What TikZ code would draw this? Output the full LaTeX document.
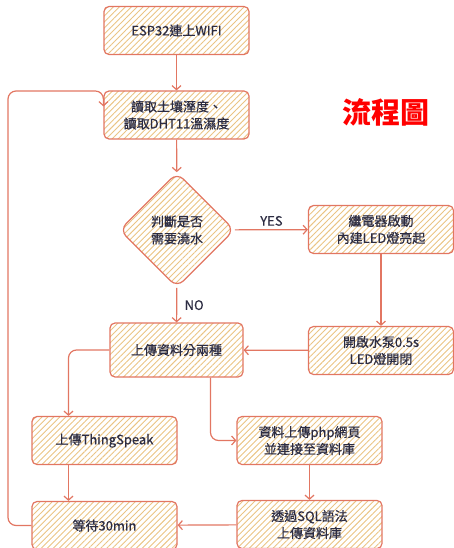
\documentclass[tikz,border=0pt]{standalone}
\usepackage{fontspec}
\setmainfont{Noto Sans CJK TC}
\newfontfamily\boxfont{Noto Sans CJK TC}[FakeBold=0.6]
\usepackage{tikz}
\usetikzlibrary{arrows.meta,shapes.geometric,patterns.meta}
\definecolor{edgered}{RGB}{226,118,98}
\definecolor{hatch}{RGB}{234,196,132}
\definecolor{ink}{RGB}{44,44,66}

\begin{document}
\begin{tikzpicture}[x=1pt,y=-1pt]
	\useasboundingbox (0,0) rectangle (454,548);
	\begin{scope}[every node/.style={draw=edgered,line width=1.2pt,rounded corners=5pt,
	              pattern={Lines[angle=45,distance=4.2pt,line width=0.9pt]},pattern color=hatch,
	              minimum width=145pt,minimum height=48pt,align=center,text=ink,
	              font=\boxfont\fontsize{13}{17}\selectfont}]
	    \node (1) at (176.5,30.5) {ESP32連上WIFI};
	    \node (2) at (176.5,115) {讀取土壤溼度、\\讀取DHT11溫濕度};
	    \node[diamond,aspect=1,inner sep=0pt,minimum width=115pt,minimum height=115pt,
	          rounded corners=9pt] (3) at (177,230) {判斷是否\\需要澆水};
	    \node (4) at (381,229.5) {繼電器啟動\\內建LED燈亮起};
	    \node (5) at (381,350.5) {開啟水泵0.5s\\LED燈開閉};
	    \node[minimum width=133pt,minimum height=54pt] (6) at (176.5,350) {上傳資料分兩種};
	    \node (7) at (104.5,440.5) {上傳ThingSpeak};
	    \node (8) at (309.5,440.5) {資料上傳php網頁\\並連接至資料庫};
	    \node (9) at (104.5,525.5) {等待30min};
	    \node (10) at (309.5,524.5) {透過SQL語法\\上傳資料庫};
	\end{scope}

	\node[text=red,font=\fontsize{29}{29}\selectfont\bfseries] (title) at (386,112) {流程圖};

	\begin{scope}[>={Straight Barb[length=4pt,width=9pt]},
	              every node/.style={text=ink,font=\boxfont\fontsize{13}{15}\selectfont},
	              every edge/.style={draw=edgered,line width=1.2pt,->}]
	    	\path (1) edge (2);
	    	\path (2) edge (3);
	    	\path (3) edge node[above] {YES} (4);
	    	\path (3) edge node[right=4pt] {NO} (6);
	    	\path (4) edge (5);
	    	\path (5) edge (6);
	    	\path ([xshift=-36pt]7.south) edge ([xshift=-36pt]9.north);
	    	\path (8) edge (10);
	    	\path (10) edge (9);
		\draw[edgered,line width=1.2pt,->,rounded corners=8pt] (6.west) -| ([xshift=-36pt]7.north);
		\draw[edgered,line width=1.2pt,->,rounded corners=8pt] ([xshift=34pt]6.south) |- (8.west);
		\coordinate (loop) at (8,91);
		\draw[edgered,line width=1.2pt,->,rounded corners=8pt] (9.west) -| (loop) -| ([yshift=-16pt]2.north west);
	\end{scope}
\end{tikzpicture}
\end{document}
